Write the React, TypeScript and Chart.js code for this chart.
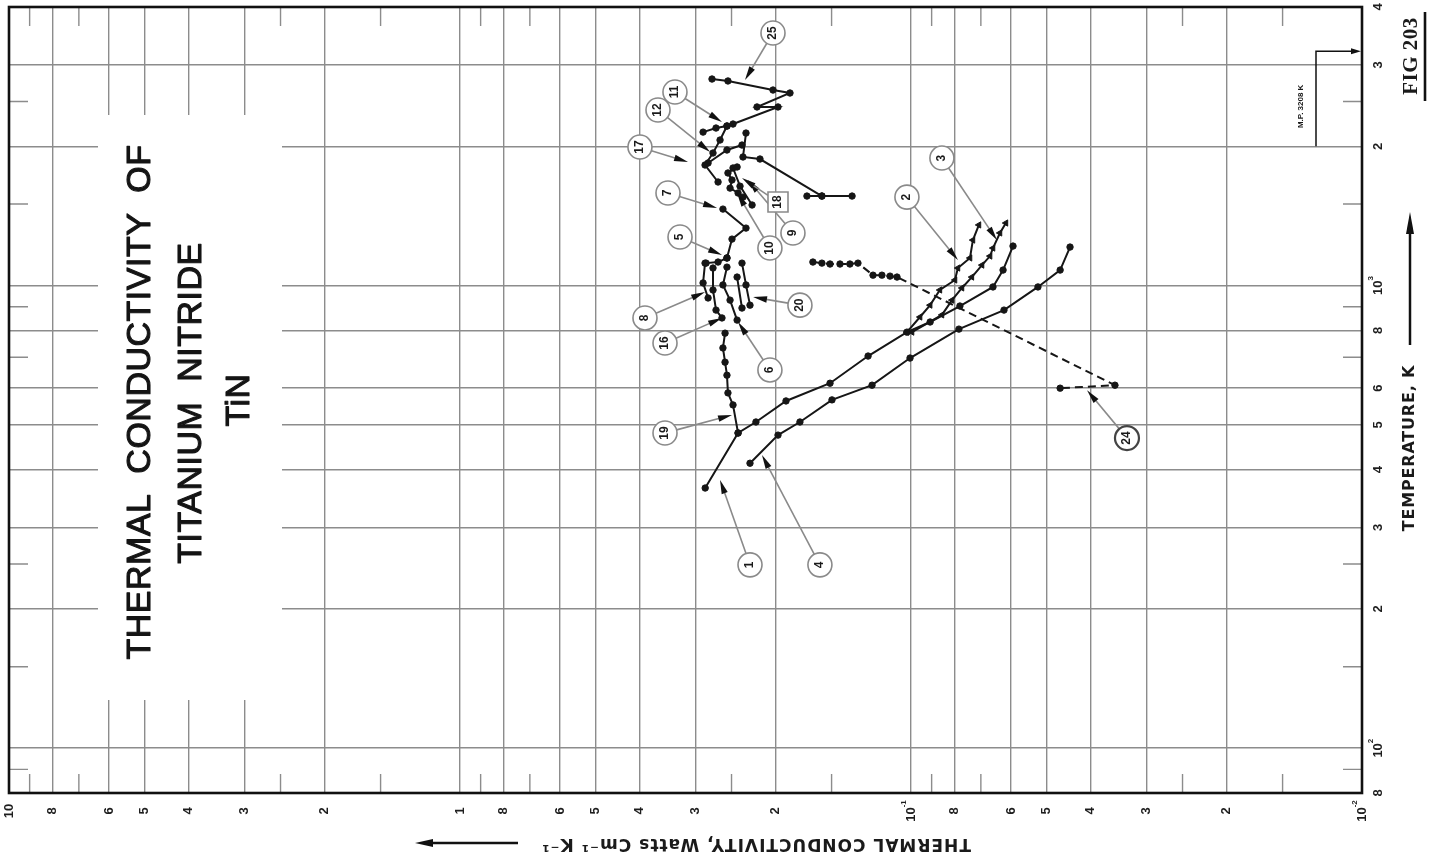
import React, { useEffect, useRef } from "react";
import { Chart, registerables } from "chart.js";
Chart.register(...registerables);

// ---------- axes ----------
const K_MIN = 0.01, K_MAX = 10;
const T_MIN = 80, T_MAX = 4000;
const gridK = [8, 6, 5, 4, 3, 2, 1, 0.8, 0.6, 0.5, 0.4, 0.3, 0.2, 0.1, 0.08, 0.06, 0.05, 0.04, 0.03, 0.02];
const minorK = [9, 7, 2.5, 1.5, 0.9, 0.7, 0.25, 0.15, 0.09, 0.07, 0.025, 0.015];
const gridT = [3000, 2000, 1000, 800, 600, 500, 400, 300, 200, 100];
const minorT = [2500, 1500, 900, 700, 250, 150, 90];
const kLabelValues = [10, 8, 6, 5, 4, 3, 2, 1, 0.8, 0.6, 0.5, 0.4, 0.3, 0.2, 0.1, 0.08, 0.06, 0.05, 0.04, 0.03, 0.02, 0.01];
const kLabelTexts = ["10", "8", "6", "5", "4", "3", "2", "1", "8", "6", "5", "4", "3", "2", "10|-1", "8", "6", "5", "4", "3", "2", "10|-2"];
const tLabelValues = [4000, 3000, 2000, 1000, 800, 600, 500, 400, 300, 200, 100, 80];
const tLabelTexts = ["4", "3", "2", "10|3", "8", "6", "5", "4", "3", "2", "10|2", "8"];
const MELTING_POINT = 3208;

// ---------- data (k in W cm^-1 K^-1, T in K) ----------
const c1K = [0.286, 0.2418, 0.2207, 0.1893, 0.1512, 0.1245, 0.1021, 0.0907, 0.0779, 0.0658, 0.0625, 0.0594];
const c1T = [365, 480, 507, 563, 615, 704, 793, 834, 903, 993, 1080, 1217];
const c2K = [0.1021, 0.0955, 0.0907, 0.0863, 0.0799, 0.0787, 0.074, 0.0729, 0.0707];
const c2T = [793, 855, 907, 978, 1028, 1091, 1147, 1254, 1352];
const c3K = [0.0995, 0.0854, 0.0811, 0.0771, 0.0733, 0.0696, 0.0668, 0.0658, 0.0635, 0.0616];
const c3T = [793, 864, 930, 988, 1043, 1107, 1158, 1205, 1299, 1365];
const c4K = [0.2275, 0.1972, 0.1763, 0.1497, 0.122, 0.1005, 0.0783, 0.0622, 0.0523, 0.0467, 0.0444];
const c4T = [413, 475, 507, 566, 609, 697, 805, 885, 993, 1080, 1211];
const c19K = [0.2584, 0.2612, 0.2584, 0.2559, 0.2546, 0.2481, 0.2418];
const c19T = [789, 733, 683, 640, 586, 552, 480];
const c24K = [0.165, 0.1576, 0.1512, 0.1437, 0.1366, 0.1311, 0.1214, 0.116, 0.1113, 0.1074, 0.0353, 0.0467];
const c24T = [1124, 1118, 1113, 1113, 1113, 1118, 1053, 1053, 1048, 1043, 609, 600];
const c25K = [0.2762, 0.2546, 0.2023, 0.1855, 0.2195, 0.1972, 0.2481];
const c25T = [2795, 2768, 2646, 2607, 2432, 2432, 2234];
const c11K = [0.2891, 0.2706, 0.2559];
const c11T = [2146, 2190, 2212];
const c12K = [0.2559, 0.2651, 0.2748, 0.2862, 0.2678];
const c12T = [2212, 2063, 1934, 1822, 1674];
const c17K = [0.237, 0.2559, 0.2818];
const c17T = [2012, 1963, 1840];
const c18K = [0.2322, 0.2358, 0.2162, 0.1576];
const c18T = [2136, 1896, 1877, 1561];
const c15K = [0.1701, 0.1576, 0.1351];
const c15T = [1561, 1561, 1561];
const c9K = [0.243, 0.2546, 0.2494, 0.2519, 0.2418, 0.2358];
const c9T = [1804, 1751, 1691, 1624, 1585, 1553];
const c10K = [0.2481, 0.2394, 0.2251];
const c10T = [1795, 1640, 1493];
const c7K = [0.2612, 0.2322, 0.2494, 0.2559];
const c7T = [1463, 1331, 1260, 1147];
const c5K = [0.2559, 0.2678, 0.2847];
const c5T = [1147, 1124, 1118];
const c8K = [0.2862, 0.2891, 0.2818];
const c8T = [1118, 1013, 940];
const c16K = [0.2748, 0.2748, 0.2706, 0.2625];
const c16T = [1091, 978, 885, 851];
const c6K = [0.2559, 0.2612, 0.2519, 0.243];
const c6T = [1096, 1003, 930, 842];
const c20K = [0.237, 0.2322, 0.2275];
const c20T = [1118, 1003, 907];
const c20bK = [0.243, 0.237];
const c20bT = [1043, 894];

// ---------- callouts (label position and arrow tip, in data units) ----------
const calloutText = ["1", "4", "19", "16", "8", "6", "20", "5", "7", "10", "9", "18", "17", "12", "11", "25", "2", "3", "24"];
const calloutK = [0.2275, 0.1592, 0.3511, 0.3511, 0.3889, 0.2055, 0.1763, 0.3252, 0.3458, 0.2055, 0.1827, 0.1972, 0.399, 0.3639, 0.3337, 0.2023, 0.1021, 0.0854, 0.0332];
const calloutT = [249, 249, 480, 751, 851, 657, 907, 1273, 1585, 1205, 1299, 1515, 1992, 2396, 2620, 3515, 1553, 1886, 468];
const tipK = [0.2651, 0.214, 0.2494, 0.2625, 0.2862, 0.2418, 0.224, 0.2625, 0.2692, 0.243, 0.2298, 0.237, 0.3122, 0.2788, 0.2625, 0.2334, 0.0787, 0.0645, 0.0407];
const tipT = [380, 430, 525, 851, 968, 834, 944, 1164, 1471, 1585, 1691, 1707, 1849, 1944, 2257, 2781, 1135, 1254, 594];

const LINE = "#161616";
const GRID = "#8c8c8c";

type Series = { k: number[]; t: number[]; marker?: string; dashed?: boolean };
const seriesList: Series[] = [
  { k: c1K, t: c1T },
  { k: c2K, t: c2T, marker: "triangle" },
  { k: c3K, t: c3T, marker: "triangle" },
  { k: c4K, t: c4T },
  { k: c19K, t: c19T },
  { k: c24K, t: c24T, dashed: true },
  { k: c25K, t: c25T },
  { k: c11K, t: c11T },
  { k: c12K, t: c12T },
  { k: c17K, t: c17T },
  { k: c18K, t: c18T },
  { k: c15K, t: c15T },
  { k: c9K, t: c9T },
  { k: c10K, t: c10T },
  { k: c7K, t: c7T },
  { k: c5K, t: c5T },
  { k: c8K, t: c8T },
  { k: c16K, t: c16T },
  { k: c6K, t: c6T },
  { k: c20K, t: c20T },
  { k: c20bK, t: c20bT },
];

function drawRot(ctx: CanvasRenderingContext2D, text: string, x: number, y: number, ang: number, font: string, color: string, spacing = 0, strokeW = 0) {
  ctx.save();
  ctx.translate(x, y);
  ctx.rotate(ang);
  ctx.font = font;
  (ctx as any).letterSpacing = spacing + "px";
  ctx.fillStyle = color;
  ctx.textAlign = "center";
  ctx.textBaseline = "middle";
  ctx.fillText(text, 0, 0);
  if (strokeW > 0) {
    ctx.strokeStyle = color;
    ctx.lineWidth = strokeW;
    ctx.lineJoin = "round";
    ctx.strokeText(text, 0, 0);
  }
  ctx.restore();
}

// label "10|-1" = base with superscript, drawn rotated -90deg
function drawTickLabel(ctx: CanvasRenderingContext2D, label: string, x: number, y: number) {
  const [base, sup] = label.split("|");
  ctx.save();
  ctx.translate(x, y);
  ctx.rotate(-Math.PI / 2);
  ctx.fillStyle = "#1e1e1e";
  ctx.textBaseline = "middle";
  const bf = "bold 13px 'Liberation Sans', Arial, sans-serif";
  const sf = "bold 8px 'Liberation Sans', Arial, sans-serif";
  ctx.font = bf;
  const wb = ctx.measureText(base).width;
  let ws = 0;
  if (sup) {
    ctx.font = sf;
    ws = ctx.measureText(sup).width;
  }
  const total = wb + ws;
  ctx.font = bf;
  ctx.textAlign = "left";
  ctx.fillText(base, -total / 2, 0);
  if (sup) {
    ctx.font = sf;
    ctx.fillText(sup, -total / 2 + wb, -7);
  }
  ctx.restore();
}

function arrowHead(ctx: CanvasRenderingContext2D, tx: number, ty: number, dx: number, dy: number, len: number, half: number) {
  const d = Math.hypot(dx, dy) || 1;
  const ux = dx / d, uy = dy / d;
  const bx = tx - ux * len, by = ty - uy * len;
  ctx.beginPath();
  ctx.moveTo(tx, ty);
  ctx.lineTo(bx - uy * half, by + ux * half);
  ctx.lineTo(bx + uy * half, by - ux * half);
  ctx.closePath();
  ctx.fill();
}

const decor = {
  id: "decor",
  beforeDatasetsDraw(chart: any) {
    const ctx = chart.ctx as CanvasRenderingContext2D;
    ctx.save();
    ctx.fillStyle = "#ffffff";
    ctx.fillRect(98, 115, 184, 585);
    ctx.restore();
  },
  afterDatasetsDraw(chart: any) {
    const ctx = chart.ctx as CanvasRenderingContext2D;
    const xs = chart.scales.x, ys = chart.scales.y;
    ctx.save();
    calloutText.forEach((txt, i) => {
      const cx = xs.getPixelForValue(calloutK[i]);
      const cy = ys.getPixelForValue(calloutT[i]);
      const tx = xs.getPixelForValue(tipK[i]);
      const ty = ys.getPixelForValue(tipT[i]);
      const r = 12;
      const dx = tx - cx, dy = ty - cy;
      const d = Math.hypot(dx, dy);
      ctx.strokeStyle = "#8a8a8a";
      ctx.lineWidth = 1.6;
      ctx.beginPath();
      ctx.moveTo(cx + (dx / d) * r, cy + (dy / d) * r);
      ctx.lineTo(tx - (dx / d) * 6, ty - (dy / d) * 6);
      ctx.stroke();
      ctx.fillStyle = "#111";
      arrowHead(ctx, tx, ty, dx, dy, 14, 3.2);
      ctx.fillStyle = "#fff";
      ctx.strokeStyle = txt === "24" ? "#444" : "#8a8a8a";
      ctx.lineWidth = txt === "24" ? 2.2 : 1.6;
      ctx.beginPath();
      if (txt === "18") {
        ctx.rect(cx - 10, cy - 10, 20, 20);
      } else {
        ctx.arc(cx, cy, r, 0, Math.PI * 2);
      }
      ctx.fill();
      ctx.stroke();
      drawRot(ctx, txt, cx, cy, -Math.PI / 2, "bold 12px 'Liberation Sans', Arial, sans-serif", "#1a1a1a");
    });
    ctx.restore();
  },
  afterDraw(chart: any) {
    const ctx = chart.ctx as CanvasRenderingContext2D;
    const a = chart.chartArea;
    const xs = chart.scales.x, ys = chart.scales.y;
    ctx.save();
    // minor edge ticks
    ctx.strokeStyle = GRID;
    ctx.lineWidth = 1.4;
    const tl = 19;
    minorK.forEach((v) => {
      const x = xs.getPixelForValue(v);
      ctx.beginPath();
      ctx.moveTo(x, a.top); ctx.lineTo(x, a.top + tl);
      ctx.moveTo(x, a.bottom); ctx.lineTo(x, a.bottom - tl);
      ctx.stroke();
    });
    minorT.forEach((v) => {
      const y = ys.getPixelForValue(v);
      ctx.beginPath();
      ctx.moveTo(a.left, y); ctx.lineTo(a.left + tl, y);
      ctx.moveTo(a.right, y); ctx.lineTo(a.right - tl, y);
      ctx.stroke();
    });
    // frame
    ctx.strokeStyle = "#111";
    ctx.lineWidth = 2.6;
    ctx.strokeRect(a.left, a.top, a.right - a.left, a.bottom - a.top);

    // tick labels
    kLabelValues.forEach((v, i) => drawTickLabel(ctx, kLabelTexts[i], xs.getPixelForValue(v), a.bottom + 18));
    tLabelValues.forEach((v, i) => drawTickLabel(ctx, tLabelTexts[i], a.right + 16, ys.getPixelForValue(v)));

    // title
    const tf = "34px 'Liberation Sans', Arial, sans-serif";
    drawRot(ctx, "THERMAL  CONDUCTIVITY  OF", 141, 402, -Math.PI / 2, tf, "#141414", 0.5, 1.1);
    drawRot(ctx, "TITANIUM  NITRIDE", 192, 403, -Math.PI / 2, tf, "#141414", 0.5, 1.1);
    drawRot(ctx, "TiN", 240, 400, -Math.PI / 2, tf, "#141414", 0.5, 1.1);

    // bottom axis title (upside down)
    drawRot(ctx, "THERMAL CONDUCTIVITY, Watts Cm\u207B\u00B9 K\u207B\u00B9", 756, 843, Math.PI, "bold 17px 'DejaVu Sans', 'Liberation Sans', sans-serif", "#1a1a1a", 1);
    ctx.strokeStyle = "#111";
    ctx.fillStyle = "#111";
    ctx.lineWidth = 2.5;
    ctx.beginPath(); ctx.moveTo(518, 843); ctx.lineTo(428, 843); ctx.stroke();
    arrowHead(ctx, 415, 843, -1, 0, 18, 4);

    // right axis title
    drawRot(ctx, "TEMPERATURE, K", 1410, 448, -Math.PI / 2, "bold 16px 'DejaVu Sans', 'Liberation Sans', sans-serif", "#1a1a1a", 0.8);
    ctx.lineWidth = 2.5;
    ctx.beginPath(); ctx.moveTo(1410, 345); ctx.lineTo(1410, 230); ctx.stroke();
    arrowHead(ctx, 1410, 212, 0, -1, 22, 4);

    // FIG 203
    drawRot(ctx, "FIG 203", 1412, 56, -Math.PI / 2, "bold 21px 'Liberation Serif', 'Times New Roman', serif", "#1a1a1a", 0.5);
    ctx.lineWidth = 2.6;
    ctx.beginPath(); ctx.moveTo(1425, 12); ctx.lineTo(1425, 101); ctx.stroke();

    // melting point marker
    const yMP = ys.getPixelForValue(MELTING_POINT);
    ctx.lineWidth = 1.5;
    ctx.beginPath();
    ctx.moveTo(1316, yMP + 95); ctx.lineTo(1316, yMP); ctx.lineTo(a.right - 8, yMP);
    ctx.stroke();
    arrowHead(ctx, a.right - 1, yMP, 1, 0, 10, 3);
    drawRot(ctx, "M.P. 3208 K", 1301, yMP + 55, -Math.PI / 2, "bold 8px 'Liberation Sans', Arial, sans-serif", "#1a1a1a");

    ctx.restore();
  },
};

export default function App() {
  const ref = useRef<HTMLCanvasElement>(null);
  useEffect(() => {
    document.body.style.margin = "0";
    const datasets = seriesList.map((s) => ({
      data: s.k.map((k, i) => ({ x: k, y: s.t[i] })),
      showLine: true,
      borderColor: LINE,
      borderWidth: 2,
      borderDash: s.dashed ? [8, 5] : [],
      pointStyle: (s.marker || "circle") as any,
      pointRotation: s.marker === "triangle" ? 30 : 0,
      pointRadius: s.marker === "triangle" ? 3.6 : 3.2,
      pointBackgroundColor: LINE,
      pointBorderColor: LINE,
      pointBorderWidth: 1,
      tension: 0,
    }));
    const chart = new Chart(ref.current!, {
      type: "scatter",
      data: { datasets },
      options: {
        responsive: false,
        animation: false,
        devicePixelRatio: 1,
        layout: { padding: { left: 9, top: 7, right: 72, bottom: 71 } },
        plugins: { legend: { display: false }, tooltip: { enabled: false }, title: { display: false } },
        scales: {
          x: {
            type: "logarithmic",
            min: K_MIN,
            max: K_MAX,
            reverse: true,
            ticks: { display: false },
            grid: { color: GRID, lineWidth: 1.4, drawTicks: false },
            border: { display: false },
            afterBuildTicks: (s: any) => { s.ticks = gridK.map((v) => ({ value: v })); },
          },
          y: {
            type: "logarithmic",
            position: "right",
            min: T_MIN,
            max: T_MAX,
            ticks: { display: false },
            grid: { color: GRID, lineWidth: 1.4, drawTicks: false },
            border: { display: false },
            afterBuildTicks: (s: any) => { s.ticks = gridT.map((v) => ({ value: v })); },
          },
        },
      } as any,
      plugins: [decor],
    });
    return () => chart.destroy();
  }, []);
  return <canvas ref={ref} width={1434} height={864} style={{ display: "block" }} />;
}
